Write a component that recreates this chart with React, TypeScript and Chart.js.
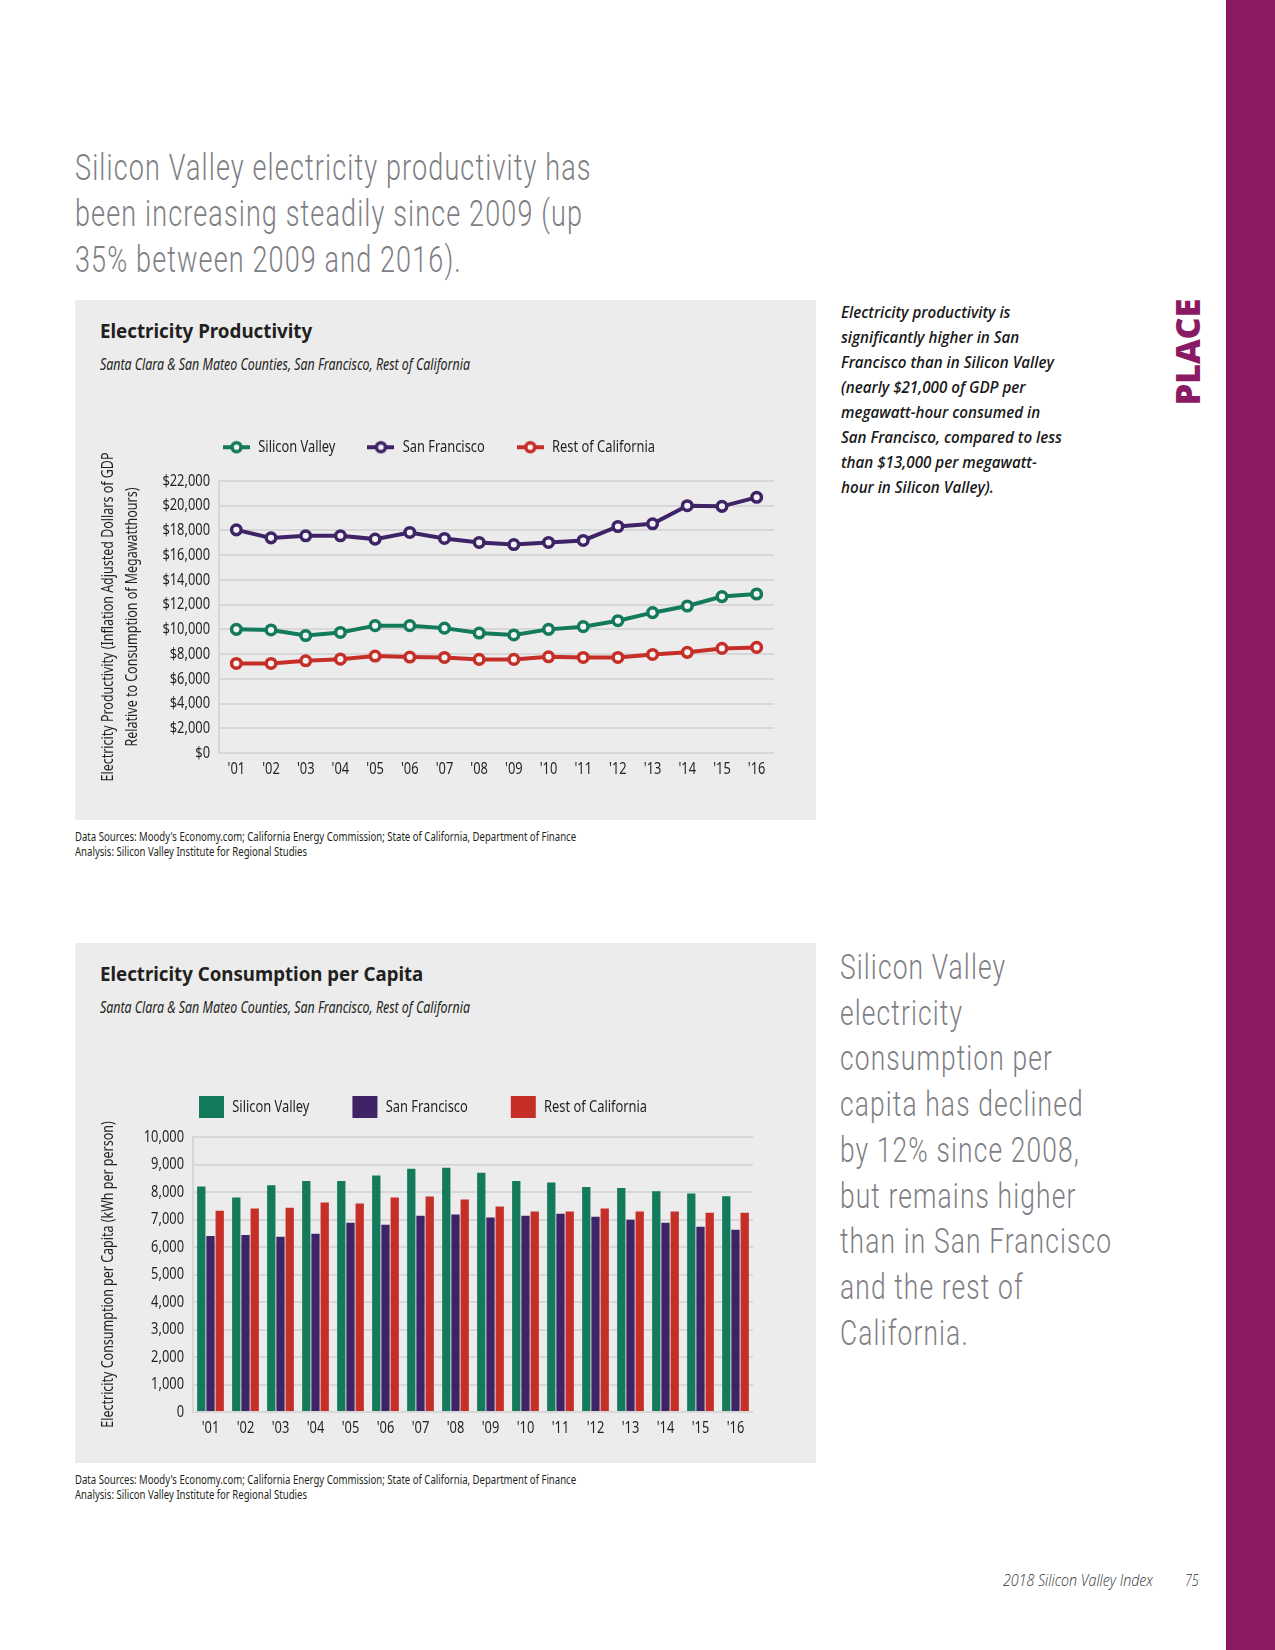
import React, { useEffect, useLayoutEffect, useRef } from "react";
import { Chart, registerables } from "chart.js";

Chart.register(...registerables);

// ---------- data ----------
const years = ["'01", "'02", "'03", "'04", "'05", "'06", "'07", "'08", "'09", "'10", "'11", "'12", "'13", "'14", "'15", "'16"];
const seriesNames = ["Silicon Valley", "San Francisco", "Rest of California"];

const svProductivity = [10000, 9950, 9500, 9750, 10300, 10300, 10100, 9700, 9550, 10000, 10220, 10700, 11350, 11890, 12650, 12860];
const sfProductivity = [18050, 17400, 17570, 17570, 17300, 17840, 17350, 17030, 16860, 17030, 17190, 18320, 18540, 20000, 19950, 20680];
const restProductivity = [7240, 7240, 7460, 7590, 7840, 7760, 7730, 7570, 7570, 7780, 7730, 7730, 7970, 8140, 8460, 8540];

const svConsumption = [8200, 7800, 8250, 8400, 8400, 8600, 8850, 8880, 8700, 8400, 8350, 8180, 8150, 8030, 7950, 7850];
const sfConsumption = [6400, 6440, 6370, 6480, 6880, 6810, 7140, 7180, 7070, 7140, 7210, 7100, 6990, 6880, 6740, 6630];
const restConsumption = [7320, 7400, 7430, 7620, 7580, 7800, 7840, 7730, 7470, 7290, 7290, 7400, 7290, 7290, 7250, 7250];

const productivityAxisTitle = ["Electricity Productivity (Inflation Adjusted Dollars of GDP", "Relative to Consumption of Megawatthours)"];
const consumptionAxisTitle = "Electricity Consumption per Capita (kWh per person)";

// ---------- styles ----------
const COLORS = ["#137a5b", "#3e2466", "#c62e28"];
const GRID = "#d7d7d7";
const TEXT = "#231f20";
const PANEL = "#ececec";
const MAGENTA = "#8a1a63";
const CANVAS_FONT = "'Noto Sans', sans-serif";
const CONDENSE = 0.78;

// Draw canvas text horizontally condensed (the reference uses a condensed face).
function condenseContext(canvas: HTMLCanvasElement, k: number) {
  const ctx = canvas.getContext("2d") as any;
  const measure = ctx.measureText.bind(ctx);
  const fill = ctx.fillText.bind(ctx);
  ctx.measureText = (t: string) => {
    const m = measure(t);
    return {
      width: m.width * k,
      actualBoundingBoxAscent: m.actualBoundingBoxAscent,
      actualBoundingBoxDescent: m.actualBoundingBoxDescent,
      actualBoundingBoxLeft: m.actualBoundingBoxLeft * k,
      actualBoundingBoxRight: m.actualBoundingBoxRight * k,
      fontBoundingBoxAscent: m.fontBoundingBoxAscent,
      fontBoundingBoxDescent: m.fontBoundingBoxDescent,
    };
  };
  ctx.fillText = (t: string, x: number, y: number, mw?: number) => {
    const w = measure(t).width * k;
    fill(t, x, y, mw === undefined ? w : Math.min(mw, w));
  };
}

function FitBlock(props: {
  lines: string[];
  refLine: number;
  refWidth: number;
  left: number;
  top: number;
  style: React.CSSProperties;
}) {
  const outer = useRef<HTMLDivElement>(null);
  const refSpan = useRef<HTMLSpanElement>(null);
  useLayoutEffect(() => {
    const w = refSpan.current ? refSpan.current.offsetWidth : 0;
    if (outer.current && w > 0) outer.current.style.transform = `scaleX(${props.refWidth / w})`;
  });
  return (
    <div
      ref={outer}
      style={{
        position: "absolute",
        left: props.left,
        top: props.top,
        transformOrigin: "0 0",
        whiteSpace: "pre",
        ...props.style,
      }}
    >
      {props.lines.map((l, i) => (
        <div key={i}>
          <span ref={i === props.refLine ? refSpan : undefined} style={{ display: "inline-block" }}>
            {l}
          </span>
        </div>
      ))}
    </div>
  );
}

function makeLineMarker(color: string) {
  const c = document.createElement("canvas");
  c.width = 27;
  c.height = 14;
  const g = c.getContext("2d")!;
  g.strokeStyle = color;
  g.lineWidth = 4;
  g.beginPath();
  g.moveTo(0, 7);
  g.lineTo(27, 7);
  g.stroke();
  g.beginPath();
  g.arc(13.5, 7, 4.5, 0, Math.PI * 2);
  g.fillStyle = "#f4f4f4";
  g.fill();
  g.lineWidth = 3.5;
  g.stroke();
  return c;
}

function ProductivityChart() {
  const ref = useRef<HTMLCanvasElement>(null);
  useEffect(() => {
    condenseContext(ref.current!, CONDENSE);
    const markers = COLORS.map(makeLineMarker);
    const values = [svProductivity, sfProductivity, restProductivity];
    const chart = new Chart(ref.current!, {
      type: "line",
      data: {
        labels: years,
        datasets: seriesNames.map((name, i) => ({
          label: name,
          data: values[i],
          borderColor: COLORS[i],
          backgroundColor: COLORS[i],
          borderWidth: 4,
          pointRadius: 4.8,
          pointBorderWidth: 3.5,
          pointBackgroundColor: "#f4f4f4",
          pointBorderColor: COLORS[i],
          tension: 0,
          fill: false,
        })),
      },
      options: {
        responsive: false,
        animation: false,
        events: [],
        layout: { padding: { left: 20, right: 42, top: 10, bottom: 28 } },
        plugins: {
          legend: {
            position: "top",
            align: "start",
            fullSize: false,
            maxHeight: 50,
            labels: {
              usePointStyle: true,
              pointStyleWidth: 27,
              padding: 32,
              color: TEXT,
              font: { family: CANVAS_FONT, size: 16.5 },
              generateLabels: (c: any) =>
                (Chart.defaults.plugins.legend.labels as any)
                  .generateLabels(c)
                  .map((item: any, i: number) => ({ ...item, pointStyle: markers[i] })),
            },
          },
          tooltip: { enabled: false },
        },
        scales: {
          x: {
            offset: true,
            grid: { display: false },
            border: { display: false },
            ticks: { color: TEXT, font: { family: CANVAS_FONT, size: 16.5 }, padding: -2, autoSkip: false, maxRotation: 0 },
            afterFit: (s: any) => {
              s.height = 30;
            },
          },
          y: {
            min: 0,
            max: 22000,
            ticks: {
              stepSize: 2000,
              color: TEXT,
              font: { family: CANVAS_FONT, size: 16.5 },
              padding: 9,
              callback: (v: any) => "$" + Number(v).toLocaleString("en-US"),
            },
            grid: { color: GRID, lineWidth: 2, drawTicks: false },
            border: { display: true, color: GRID, width: 2 },
            title: {
              display: true,
              text: productivityAxisTitle,
              color: TEXT,
              font: { family: CANVAS_FONT, size: 16, lineHeight: 24 / 16 },
              padding: { top: 1.5, bottom: 0 },
            },
            afterFit: (s: any) => {
              s.width = 124;
            },
          },
        },
      } as any,
      plugins: [
        {
          id: "legendPlace",
          afterLayout(c: any) {
            c.legend.left = 148 - 32;
            c.legend.top = 18 - 32;
          },
        },
      ],
    });
    return () => chart.destroy();
  }, []);
  return <canvas ref={ref} width={741} height={390} style={{ position: "absolute", left: 75, top: 421, width: 741, height: 390 }} />;
}

function ConsumptionChart() {
  const ref = useRef<HTMLCanvasElement>(null);
  useEffect(() => {
    condenseContext(ref.current!, CONDENSE);
    const values = [svConsumption, sfConsumption, restConsumption];
    const chart = new Chart(ref.current!, {
      type: "bar",
      data: {
        labels: years,
        datasets: seriesNames.map((name, i) => ({
          label: name,
          data: values[i],
          backgroundColor: COLORS[i],
          borderWidth: 0,
          categoryPercentage: 0.79,
          barPercentage: 0.9,
        })),
      },
      options: {
        responsive: false,
        animation: false,
        events: [],
        layout: { padding: { left: 20, right: 63, top: 10, bottom: 15 } },
        plugins: {
          legend: {
            position: "top",
            align: "start",
            fullSize: false,
            maxHeight: 60,
            labels: {
              boxWidth: 25,
              boxHeight: 22,
              padding: 43,
              color: TEXT,
              font: { family: CANVAS_FONT, size: 16.5 },
            },
          },
          tooltip: { enabled: false },
        },
        scales: {
          x: {
            grid: { display: false },
            border: { display: false },
            ticks: { color: TEXT, font: { family: CANVAS_FONT, size: 16.5 }, padding: -2, autoSkip: false, maxRotation: 0 },
            afterFit: (s: any) => {
              s.height = 30;
            },
          },
          y: {
            min: 0,
            max: 10000,
            ticks: {
              stepSize: 1000,
              color: TEXT,
              font: { family: CANVAS_FONT, size: 16.5 },
              padding: 9,
              callback: (v: any) => Number(v).toLocaleString("en-US"),
            },
            grid: { color: GRID, lineWidth: 2, drawTicks: false },
            border: { display: true, color: GRID, width: 2 },
            title: {
              display: true,
              text: consumptionAxisTitle,
              color: TEXT,
              font: { family: CANVAS_FONT, size: 16, lineHeight: 24 / 16 },
              padding: { top: 1, bottom: 0 },
            },
            afterFit: (s: any) => {
              s.width = 98;
            },
          },
        },
      } as any,
      plugins: [
        {
          id: "legendPlace",
          afterLayout(c: any) {
            c.legend.left = 124 - 43;
            c.legend.top = 29 - 43;
          },
        },
      ],
    });
    return () => chart.destroy();
  }, []);
  return <canvas ref={ref} width={741} height={390} style={{ position: "absolute", left: 75, top: 1067, width: 741, height: 390 }} />;
}

const headlineStyle: React.CSSProperties = {
  fontFamily: "Roboto, 'Noto Sans', sans-serif",
  fontWeight: 300,
  color: "#7e7e85",
  letterSpacing: "1.5px",
};

const footnoteLines = [
  "Data Sources: Moody's Economy.com; California Energy Commission; State of California, Department of Finance",
  "Analysis: Silicon Valley Institute for Regional Studies",
];
const footnoteStyle: React.CSSProperties = { fontFamily: "'Noto Sans', sans-serif", fontSize: 12.5, lineHeight: "14.7px", color: TEXT };

export default function App() {
  return (
    <div style={{ position: "absolute", left: 0, top: 0, width: 1275, height: 1650, background: "#fff", overflow: "hidden" }}>
      {/* side band */}
      <div style={{ position: "absolute", left: 1226, top: 0, width: 49, height: 1650, background: MAGENTA }} />
      <div
        style={{
          position: "absolute",
          left: 1187,
          top: 352,
          transform: "translate(-50%, -50%) rotate(-90deg)",
          fontFamily: "'Open Sans', 'Noto Sans', sans-serif",
          fontWeight: 800,
          fontSize: 34,
          lineHeight: "34px",
          color: MAGENTA,
          whiteSpace: "nowrap",
        }}
      >
        PLACE
      </div>

      {/* headline */}
      <FitBlock
        lines={["Silicon Valley electricity productivity has", "been increasing steadily since 2009 (up", "35% between 2009 and 2016)."]}
        refLine={0}
        refWidth={517}
        left={75}
        top={145}
        style={{ ...headlineStyle, fontSize: 36, lineHeight: "46px" }}
      />

      {/* side note 1 */}
      <FitBlock
        lines={[
          "Electricity productivity is",
          "significantly higher in San",
          "Francisco than in Silicon Valley",
          "(nearly $21,000 of GDP per",
          "megawatt-hour consumed in",
          "San Francisco, compared to less",
          "than $13,000 per megawatt-",
          "hour in Silicon Valley).",
        ]}
        refLine={5}
        refWidth={221}
        left={841}
        top={299}
        style={{ fontFamily: "'Open Sans', 'Noto Sans', sans-serif", fontStyle: "italic", fontWeight: 550, fontSize: 17, lineHeight: "25px", color: "#1a1a1a" }}
      />

      {/* panel 1 */}
      <div style={{ position: "absolute", left: 75, top: 300, width: 741, height: 520, background: PANEL }} />
      <FitBlock
        lines={["Electricity Productivity"]}
        refLine={0}
        refWidth={212}
        left={100}
        top={321}
        style={{ fontFamily: "'Noto Sans', sans-serif", fontWeight: 700, fontSize: 20, lineHeight: "20px", color: TEXT }}
      />
      <FitBlock
        lines={["Santa Clara & San Mateo Counties, San Francisco, Rest of California"]}
        refLine={0}
        refWidth={370}
        left={100}
        top={356}
        style={{ fontFamily: "'Noto Sans', sans-serif", fontStyle: "italic", fontSize: 15.5, lineHeight: "16px", color: TEXT }}
      />
      <ProductivityChart />
      <FitBlock lines={footnoteLines} refLine={0} refWidth={501} left={75} top={830} style={footnoteStyle} />

      {/* panel 2 */}
      <div style={{ position: "absolute", left: 75, top: 943, width: 741, height: 520, background: PANEL }} />
      <FitBlock
        lines={["Electricity Consumption per Capita"]}
        refLine={0}
        refWidth={323}
        left={100}
        top={964}
        style={{ fontFamily: "'Noto Sans', sans-serif", fontWeight: 700, fontSize: 20, lineHeight: "20px", color: TEXT }}
      />
      <FitBlock
        lines={["Santa Clara & San Mateo Counties, San Francisco, Rest of California"]}
        refLine={0}
        refWidth={370}
        left={100}
        top={999}
        style={{ fontFamily: "'Noto Sans', sans-serif", fontStyle: "italic", fontSize: 15.5, lineHeight: "16px", color: TEXT }}
      />
      <ConsumptionChart />
      <FitBlock lines={footnoteLines} refLine={0} refWidth={501} left={75} top={1473} style={footnoteStyle} />

      {/* side note 2 */}
      <FitBlock
        lines={[
          "Silicon Valley",
          "electricity",
          "consumption per",
          "capita has declined",
          "by 12% since 2008,",
          "but remains higher",
          "than in San Francisco",
          "and the rest of",
          "California.",
        ]}
        refLine={6}
        refWidth={272}
        left={840}
        top={945}
        style={{ ...headlineStyle, fontSize: 35, lineHeight: "45.7px" }}
      />

      {/* footer */}
      <FitBlock
        lines={["2018 Silicon Valley Index"]}
        refLine={0}
        refWidth={150}
        left={1003}
        top={1572}
        style={{ fontFamily: "'Open Sans', 'Noto Sans', sans-serif", fontStyle: "italic", fontWeight: 300, fontSize: 16, lineHeight: "16px", color: "#333" }}
      />
      <FitBlock
        lines={["75"]}
        refLine={0}
        refWidth={14}
        left={1185}
        top={1572}
        style={{ fontFamily: "'Open Sans', 'Noto Sans', sans-serif", fontStyle: "italic", fontWeight: 300, fontSize: 16, lineHeight: "16px", color: "#333" }}
      />
    </div>
  );
}
